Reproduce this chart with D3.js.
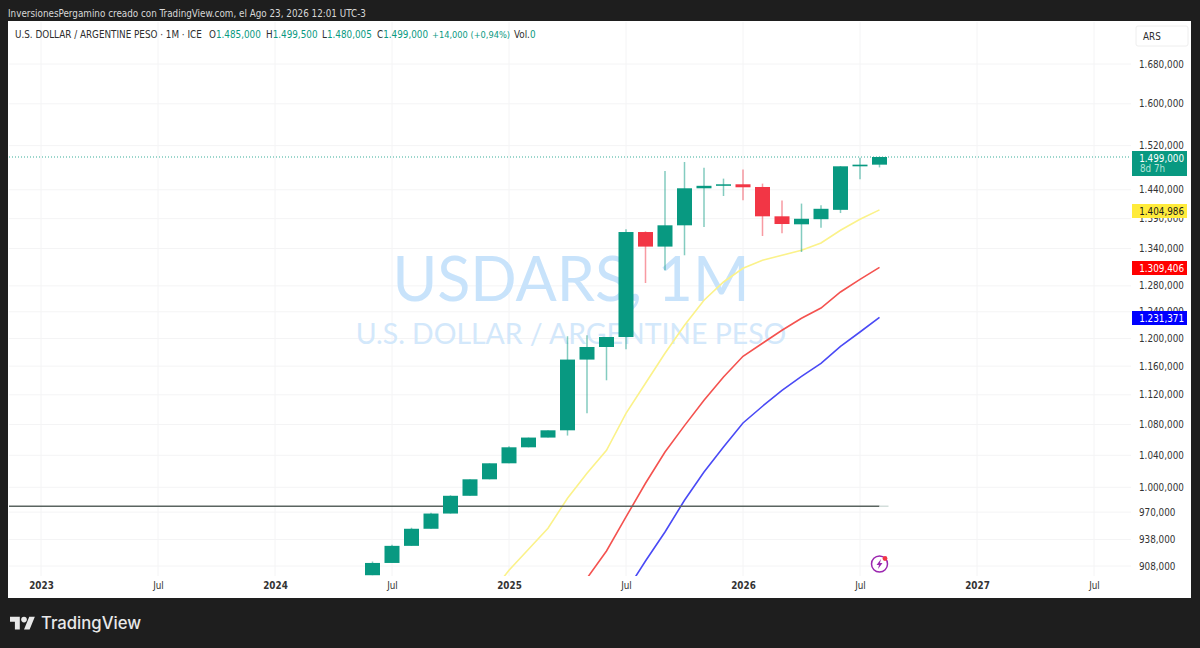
<!DOCTYPE html>
<html>
<head>
<meta charset="utf-8">
<script src="https://cdn.jsdelivr.net/npm/d3@7"></script>
<style>
  html, body { margin: 0; padding: 0; background: #1e1e1e; overflow: hidden; }
  svg { display: block; font-family: "DejaVu Sans Condensed", "DejaVu Sans", sans-serif; }
</style>
</head>
<body>
<svg id="chart"></svg>
<script>
// month labels for the candles, first one is Jun 2024
const months = ["2024-06","2024-07","2024-08","2024-09","2024-10","2024-11","2024-12",
  "2025-01","2025-02","2025-03","2025-04","2025-05","2025-06","2025-07","2025-08","2025-09","2025-10","2025-11","2025-12",
  "2026-01","2026-02","2026-03","2026-04","2026-05","2026-06","2026-07","2026-08"];
const opens = [897800,911400,930700,950400,968300,989600,1009800,
  1029800,1050200,1062800,1072300,1169400,1187600,1202200,1367300,1343100,1378600,1442600,1447000,
  1449700,1444900,1393900,1380300,1389000,1405000,1482000,1485000];
const highs = [913000,932000,951600,969200,990200,1009800,1029800,
  1051500,1062800,1072300,1203300,1204700,1202200,1371900,1368500,1473500,1489800,1479600,1459800,
  1476000,1450900,1421000,1415800,1412800,1482500,1497800,1499500];
const lows = [897800,911400,930700,950400,968300,989600,1009800,
  1029800,1050200,1062800,1065400,1094900,1140100,1184300,1284500,1304700,1328900,1375800,1429000,
  1421500,1360700,1365200,1334200,1374700,1399500,1458600,1480005];
const closes = [911400,930700,950400,968300,989600,1009800,1029800,
  1050200,1062800,1072300,1169400,1187600,1202200,1367300,1343100,1378600,1442600,1447000,1449700,
  1444400,1393900,1380800,1389700,1406800,1482000,1485000,1499000];

const maYellowMonths = months.slice(6);
const maYellow = [876000,903300,926800,951000,986600,1017300,1046400,1094900,1135900,1178500,1219600,1257600,1286100,
  1307900,1320700,1328900,1337000,1349100,1370200,1388800,1404986];
const maRedMonths = months.slice(11);
const maRed = [894500,924900,964300,1004900,1044200,1078500,1112500,1144700,
  1174100,1193000,1212200,1230100,1245700,1270400,1290300,1309406];
const maBlueMonths = months.slice(13);
const maBlue = [880000,913600,946700,984200,1018900,1050600,
  1082000,1104400,1126200,1145700,1164100,1188600,1209600,1231371];

const priceTicks = [1680000,1600000,1520000,1440000,1390000,1340000,1280000,1240000,1200000,1160000,1120000,1080000,1040000,1000000,970000,938000,908000];
const timeTicks = ["2023-01","2023-07","2024-01","2024-07","2025-01","2025-07","2026-01","2026-07","2027-01","2027-07"];
const hLine = 977000;
const lastPrice = 1499000;

const width = 1200, height = 648;
const plot = { left: 9, top: 22, right: 1131, bottom: 576, outerRight: 1191, outerBottom: 598 };
const teal = "#089981", red = "#f23645";
const uiFont = 9.8;

const monthIndex = (m) => {
  const [y, mo] = m.split("-").map(Number);
  return (y - 2023) * 12 + (mo - 1);
};
const x = d3.scaleLinear().domain([0, 54]).range([41, 1094]);
const y = d3.scaleLog().domain([908000, 1680000]).range([566, 64]);

const fmtPrice = (v) => {
  const s = String(Math.round(v));
  if (s.length > 6) return s.slice(0, s.length - 6) + "." + s.slice(-6, -3) + "," + s.slice(-3);
  return s.slice(0, -3) + "," + s.slice(-3);
};

const svg = d3.select("#chart").attr("width", width).attr("height", height);

svg.append("rect").attr("x", 0).attr("y", 0).attr("width", width).attr("height", height).attr("fill", "#1e1e1e");
svg.append("text").attr("x", 8).attr("y", 17).attr("fill", "#d8d8d8").attr("font-size", uiFont)
  .text("InversionesPergamino creado con TradingView.com, el Ago 23, 2026 12:01 UTC-3");
svg.append("rect").attr("x", plot.left - 1).attr("y", plot.top - 1)
  .attr("width", plot.outerRight - plot.left + 1).attr("height", plot.outerBottom - plot.top + 1)
  .attr("fill", "#ffffff");

svg.append("clipPath").attr("id", "pane").append("rect")
  .attr("x", plot.left).attr("y", plot.top)
  .attr("width", plot.right - plot.left).attr("height", plot.bottom - plot.top);

// grid
svg.append("g").selectAll("line").data(timeTicks).join("line")
  .attr("x1", (d) => x(monthIndex(d))).attr("x2", (d) => x(monthIndex(d)))
  .attr("y1", plot.top).attr("y2", plot.bottom)
  .attr("stroke", "#f4f4f5");
svg.append("g").selectAll("line").data(priceTicks).join("line")
  .attr("x1", plot.left).attr("x2", plot.right)
  .attr("y1", (d) => y(d)).attr("y2", (d) => y(d))
  .attr("stroke", "#f4f4f5");

// watermark
svg.append("text").attr("x", 571).attr("y", 301).attr("text-anchor", "middle")
  .attr("font-family", "Lato").attr("font-size", 61).attr("fill", "#c8e3fb").text("USDARS, 1M");
svg.append("text").attr("x", 571).attr("y", 344).attr("text-anchor", "middle")
  .attr("font-family", "Lato").attr("font-size", 28.4).attr("fill", "#d3e8fb").text("U.S. DOLLAR / ARGENTINE PESO");

const pane = svg.append("g").attr("clip-path", "url(#pane)");

// moving averages
const line = d3.line().x((d) => x(monthIndex(d[0]))).y((d) => y(d[1]));
[[maYellowMonths, maYellow, "#fbf28a"], [maRedMonths, maRed, "#f4524f"], [maBlueMonths, maBlue, "#4a4af5"]].forEach(([ms, vals, c]) => {
  pane.append("path").datum(d3.zip(ms, vals))
    .attr("d", line).attr("fill", "none").attr("stroke", c).attr("stroke-width", 1.6);
});

// horizontal level
pane.append("line").attr("x1", plot.left).attr("x2", x(monthIndex("2026-08")))
  .attr("y1", y(hLine)).attr("y2", y(hLine)).attr("stroke", "#5a6460").attr("stroke-width", 1.5);
pane.append("line").attr("x1", x(monthIndex("2026-08"))).attr("x2", x(monthIndex("2026-08")) + 9)
  .attr("y1", y(hLine)).attr("y2", y(hLine)).attr("stroke", "#d3dedb").attr("stroke-width", 1.5);

// last price line
svg.append("line").attr("x1", plot.left).attr("x2", plot.right)
  .attr("y1", y(lastPrice)).attr("y2", y(lastPrice))
  .attr("stroke", teal).attr("stroke-dasharray", "1 2").attr("opacity", 0.8);

// candles
const candles = months.map((m, i) => ({ m, o: opens[i], h: highs[i], l: lows[i], c: closes[i] }));
const bodyW = 15;
pane.append("g").selectAll("line").data(candles).join("line")
  .attr("x1", (d) => x(monthIndex(d.m))).attr("x2", (d) => x(monthIndex(d.m)))
  .attr("y1", (d) => y(d.h)).attr("y2", (d) => y(d.l))
  .attr("stroke", (d) => d.c >= d.o ? teal : red)
  .attr("stroke-opacity", 0.5).attr("stroke-width", 1.5);
pane.append("g").selectAll("rect").data(candles).join("rect")
  .attr("x", (d) => x(monthIndex(d.m)) - bodyW / 2)
  .attr("y", (d) => y(Math.max(d.o, d.c)))
  .attr("width", bodyW)
  .attr("height", (d) => Math.max(1.5, Math.abs(y(d.o) - y(d.c))))
  .attr("fill", (d) => d.c >= d.o ? teal : red);

// legend
const legend = svg.append("g").attr("font-size", uiFont);
legend.append("text").attr("x", 15).attr("y", 38).attr("fill", "#2e2e2e").text("U.S. DOLLAR / ARGENTINE PESO · 1M · ICE");
const ohlc = [["O", "1.485,000", 209], ["H", "1.499,500", 266], ["L", "1.480,005", 322], ["C", "1.499,000", 377]];
ohlc.forEach(([k, v, px]) => {
  const t = legend.append("text").attr("x", px).attr("y", 38).attr("fill", "#2e2e2e");
  t.append("tspan").text(k);
  t.append("tspan").attr("fill", teal).text(v);
});
legend.append("text").attr("x", 432).attr("y", 38).attr("fill", teal).attr("font-size", 9.2).text("+14,000 (+0,94%)");
const vol = legend.append("text").attr("x", 514).attr("y", 38).attr("fill", "#2e2e2e");
vol.append("tspan").text("Vol.");
vol.append("tspan").attr("fill", teal).text("0");

// price axis
const yAxis = d3.axisRight(y).tickValues(priceTicks).tickFormat(fmtPrice).tickSize(0).tickPadding(0);
svg.append("g").attr("transform", "translate(1139,0)").call(yAxis)
  .attr("font-family", null)
  .call((g) => g.select(".domain").remove())
  .call((g) => g.selectAll("text").attr("font-size", uiFont).attr("fill", "#333333"));

// time axis
const xAxis = d3.axisBottom(x).tickValues(timeTicks.map(monthIndex))
  .tickFormat((d) => d % 12 === 0 ? String(2023 + d / 12) : "Jul").tickSize(0).tickPadding(0);
svg.append("g").attr("transform", "translate(0,582)").call(xAxis)
  .attr("font-family", null)
  .call((g) => g.select(".domain").remove())
  .call((g) => g.selectAll("text").attr("font-size", uiFont).attr("fill", "#333333")
    .attr("font-weight", (d) => d % 12 === 0 ? 700 : 400));

// ARS box
svg.append("rect").attr("x", 1136).attr("y", 26).attr("width", 52).attr("height", 20).attr("rx", 2)
  .attr("fill", "#fff").attr("stroke", "#eeeeee");
svg.append("text").attr("x", 1143).attr("y", 40).attr("font-size", uiFont).attr("fill", "#2e2e2e").text("ARS");

// price tags on the axis
const tags = [
  [lastPrice, teal, "#ffffff", 151, 25],
  [maYellow[maYellow.length - 1], "#ffeb3b", "#1c1c1c", 204, 14],
  [maRed[maRed.length - 1], "#ff0000", "#ffffff", 261, 14],
  [maBlue[maBlue.length - 1], "#0000ff", "#ffffff", 311, 14]
];
tags.forEach(([v, bg, fg, top, h]) => {
  svg.append("rect").attr("x", 1132).attr("y", top).attr("width", 55).attr("height", h).attr("fill", bg);
  svg.append("text").attr("x", 1184).attr("y", top + 10.5).attr("text-anchor", "end")
    .attr("font-size", uiFont).attr("fill", fg).text(fmtPrice(v));
});
svg.append("text").attr("x", 1140).attr("y", 172).attr("font-size", uiFont).attr("fill", "#b5e3d8").text("8d 7h");

// lightning icon
const icon = svg.append("g").attr("transform", `translate(${x(monthIndex("2026-08"))},564)`);
icon.append("circle").attr("r", 8).attr("fill", "#fff").attr("stroke", "#9c27b0").attr("stroke-width", 1.5);
icon.append("path").attr("d", "M1.5 -5 L-3 1 L-0.5 1 L-1.5 5 L3 -1 L0.5 -1 Z").attr("fill", "#9c27b0");
icon.append("circle").attr("cx", 5.5).attr("cy", -5.5).attr("r", 2.4).attr("fill", "#f23645");

// logo
svg.append("g").attr("transform", "translate(10,614) scale(0.7)").attr("fill", "#e8e8e8")
  .call((g) => {
    g.append("path").attr("d", "M14 22H7V11H0V4h14v18zM28 22h-8l7.5-18h8L28 22z");
    g.append("circle").attr("cx", 20).attr("cy", 8).attr("r", 4);
  });
svg.append("text").attr("x", 41).attr("y", 629).attr("font-family", "Inter").attr("font-size", 16.7)
  .attr("font-weight", 500).attr("fill", "#e8e8e8").text("TradingView");
</script>
</body>
</html>
